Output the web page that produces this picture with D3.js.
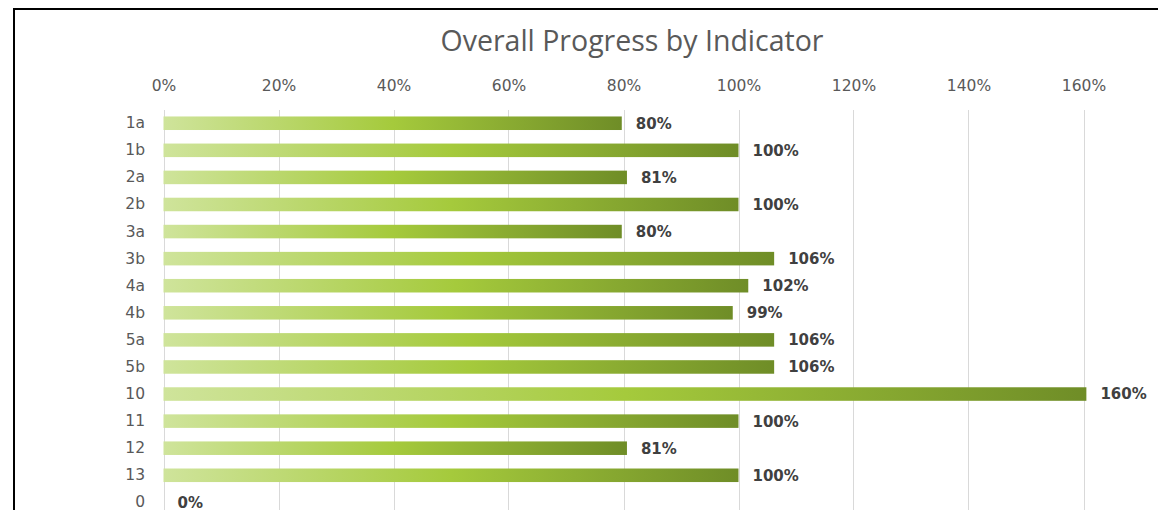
<!DOCTYPE html>
<html><head><meta charset="utf-8">
<script src="https://cdn.jsdelivr.net/npm/d3@7"></script>
<style>html,body{margin:0;padding:0;background:#fff;overflow:hidden}</style>
</head><body><svg id="c" width="1158" height="510"></svg>
<script>
const categories = ["1a","1b","2a","2b","3a","3b","4a","4b","5a","5b","10","11","12","13","0"];
const values = [0.797,1.0,0.806,1.0,0.797,1.062,1.017,0.99,1.062,1.062,1.605,1.0,0.806,1.0,0];
const labels = ["80%","100%","81%","100%","80%","106%","102%","99%","106%","106%","160%","100%","81%","100%","0%"];
const tickValues = [0,0.2,0.4,0.6,0.8,1.0,1.2,1.4,1.6];
const title = "Overall Progress by Indicator";

const svg = d3.select("#c");
// frame
svg.append("rect").attr("x",14).attr("y",9).attr("width",1300).attr("height",700)
  .attr("fill","#fff").attr("stroke","#000").attr("stroke-width",2);

const x = d3.scaleLinear().domain([0,1.6]).range([163.5,1083.5]);
const y = d3.scaleBand().domain(categories).range([109.7,109.7+15*27.08]).paddingInner(0.5).paddingOuter(0.25);

const defs = svg.append("defs");
const g = defs.append("linearGradient").attr("id","grad").attr("x1","0").attr("x2","1").attr("y1","0").attr("y2","0");
g.append("stop").attr("offset","0").attr("stop-color","#cfe49b");
g.append("stop").attr("offset","0.5").attr("stop-color","#a5ca3c");
g.append("stop").attr("offset","1").attr("stop-color","#6f8d27");

svg.append("text").attr("x",632).attr("y",51).attr("text-anchor","middle")
  .attr("font-family","Open Sans").attr("font-size",28.5).attr("fill","#595959").text(title);

// gridlines
svg.append("g").selectAll("line").data(tickValues).join("line")
  .attr("x1",d=>Math.round(x(d))+0.5).attr("x2",d=>Math.round(x(d))+0.5)
  .attr("y1",110).attr("y2",520).attr("stroke","#d9d9d9").attr("stroke-width",1);

// top axis labels
const ax = svg.append("g").attr("transform","translate(0,91)")
  .call(d3.axisTop(x).tickValues(tickValues).tickFormat(d3.format(".0%")).tickSize(0).tickPadding(0));
ax.select(".domain").remove();
ax.selectAll("text").attr("font-family","DejaVu Sans").attr("font-size",15.5).attr("fill","#595959");

// left axis labels
const ay = svg.append("g").attr("transform","translate(145,0)")
  .call(d3.axisLeft(y).tickSize(0).tickPadding(0));
ay.select(".domain").remove();
ay.selectAll("text").attr("font-family","DejaVu Sans").attr("font-size",15.5).attr("fill","#595959");

// bars
svg.append("g").selectAll("rect").data(categories).join("rect")
  .attr("x",x(0)).attr("y",d=>y(d)).attr("height",y.bandwidth())
  .attr("width",(d,i)=>x(values[i])-x(0))
  .attr("fill","url(#grad)");

// data labels
svg.append("g").selectAll("text").data(categories).join("text")
  .attr("x",(d,i)=>x(values[i])+14).attr("y",d=>y(d)+y.bandwidth()/2).attr("dy","0.36em")
  .attr("font-family","DejaVu Sans").attr("font-weight","bold").attr("font-size",15)
  .attr("fill","#404040").text((d,i)=>labels[i]);
</script></body></html>
